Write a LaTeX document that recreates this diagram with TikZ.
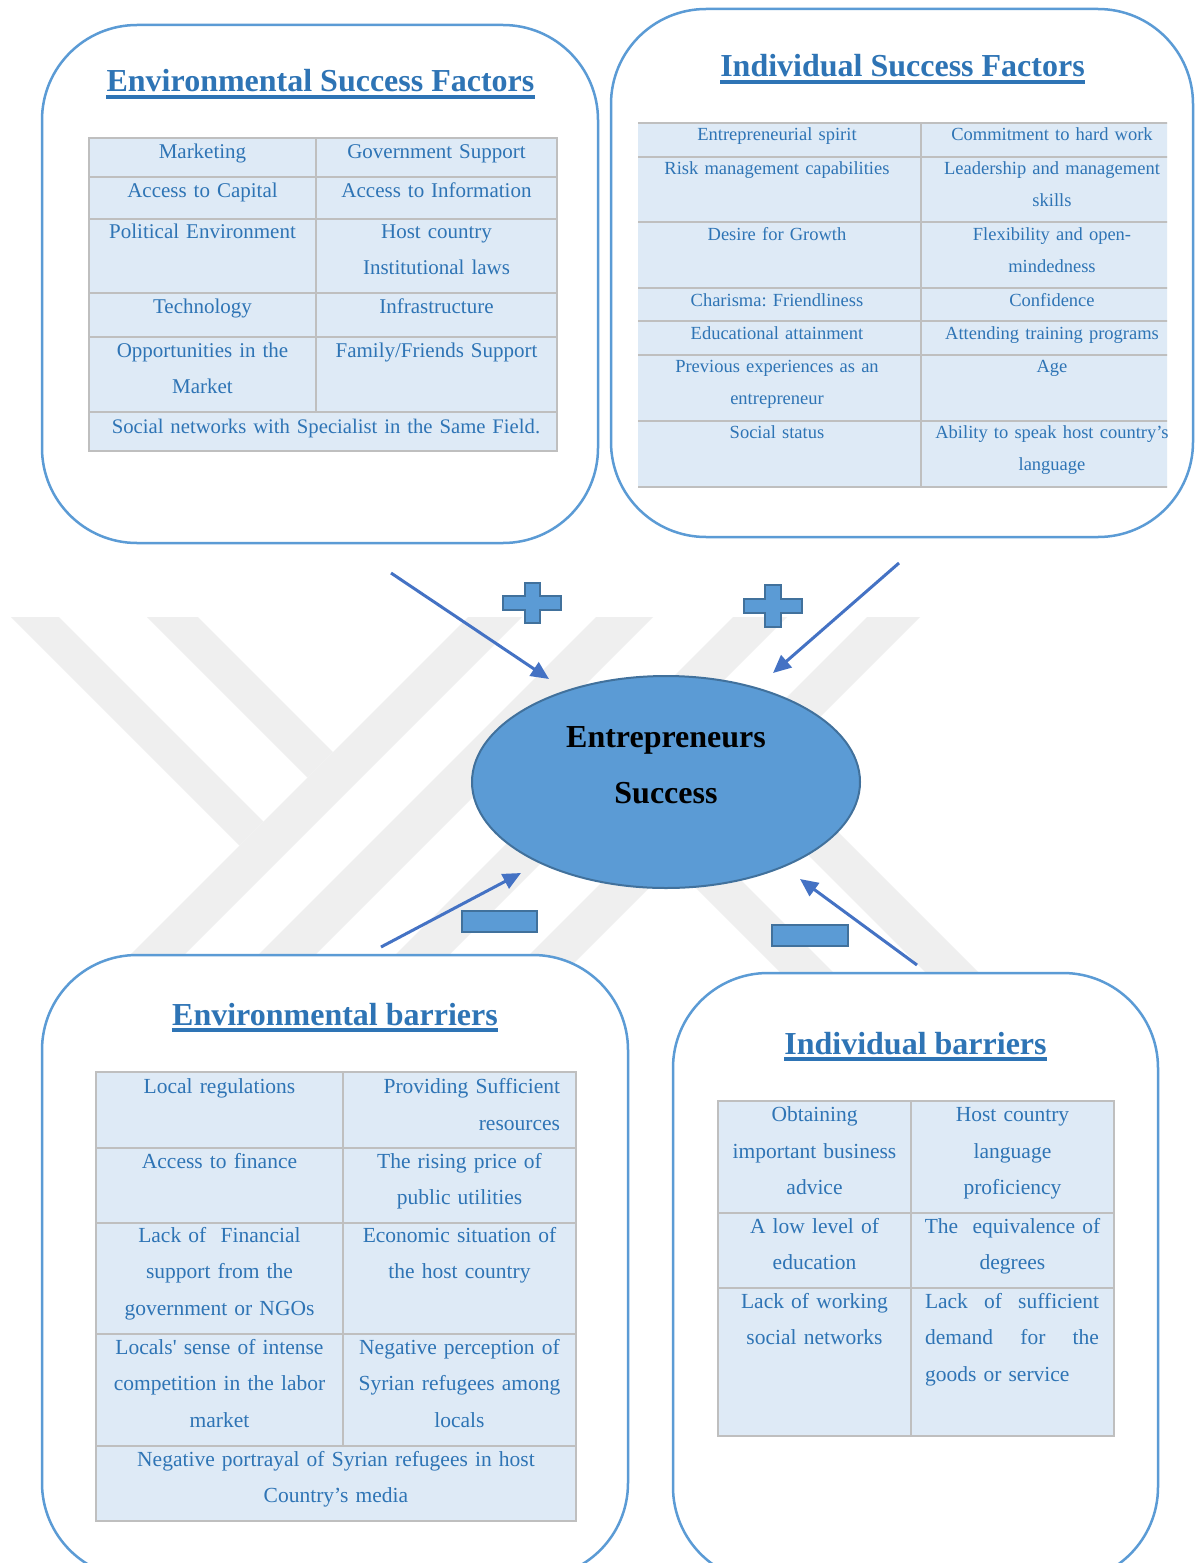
\documentclass[tikz,border=0pt]{standalone}
\usepackage{fontspec}
\setmainfont{Liberation Serif}
\usetikzlibrary{shapes.geometric, arrows.meta, calc}
\frenchspacing

\definecolor{panelblue}{HTML}{5B9BD5}
\definecolor{titleblue}{HTML}{2E74B5}
\definecolor{cellfill}{HTML}{DEEAF6}
\definecolor{gridgrey}{HTML}{BFBFBF}
\definecolor{celltext}{HTML}{2E74B5}
\definecolor{hubfill}{HTML}{5B9BD5}
\definecolor{hubedge}{HTML}{41719C}
\definecolor{arrowblue}{HTML}{4472C4}
\definecolor{markgrey}{HTML}{EFEFEF}

\tikzset{
  panel/.style={draw=panelblue, line width=2.5pt, rounded corners=95pt, fill=white, inner sep=0pt},
  heading/.style={font=\fontsize{32}{38}\selectfont\bfseries, text=titleblue, inner sep=0pt, anchor=base},
  underbar/.style={draw=titleblue, line width=3.6pt},
  gridline/.style={draw=gridgrey, line width=2pt},
  cellA/.style={text=celltext, inner sep=0pt, anchor=base, align=center, text width=#1,
                font=\fontsize{21}{36.5}\selectfont},
  cellB/.style={text=celltext, inner sep=0pt, anchor=base, align=center, text width=#1,
                font=\fontsize{18.5}{32}\selectfont},
  cellC/.style={text=celltext, inner sep=0pt, anchor=base, align=center, text width=#1,
                font=\fontsize{21.5}{36.5}\selectfont},
  hubtext/.style={font=\fontsize{32}{38}\selectfont\bfseries, text=black, inner sep=0pt, anchor=base},
  pointer/.style={draw=arrowblue, line width=3pt, -{Triangle[length=18pt,width=16pt]}},
  sign/.style={fill=hubfill, draw=hubedge, line width=2pt},
}

\begin{document}
\begin{tikzpicture}[x=1pt, y=-1pt]
\clip (0,0) rectangle (1198,1563);
\fill[white] (0,0) rectangle (1198,1563);

% faint watermark stripes
\fill[markgrey] (11,617) -- (59,617) -- (263.5,821.5) -- (239.5,845.5) -- cycle;
\fill[markgrey] (147,617) -- (198,617) -- (333,752) -- (307.5,777.5) -- cycle;
\fill[markgrey] (468,617) -- (522,617) -- (139,1000) -- (85,1000) -- cycle;
\fill[markgrey] (596,617) -- (653,617) -- (270,1000) -- (213,1000) -- cycle;
\fill[markgrey] (733,617) -- (787,617) -- (404,1000) -- (350,1000) -- cycle;
\fill[markgrey] (867,617) -- (920,617) -- (537,1000) -- (484,1000) -- cycle;
\fill[markgrey] (568,760) -- (621,760) -- (861,1000) -- (808,1000) -- cycle;
\fill[markgrey] (713,760) -- (766,760) -- (1006,1000) -- (953,1000) -- cycle;

% the four panels
\node[panel, minimum width=556pt, minimum height=518pt] (envpanel) at (320,284) {};
\node[panel, minimum width=582pt, minimum height=528pt] (indpanel) at (902,273) {};
\node[panel, minimum width=586pt, minimum height=623pt] (envbar) at (335,1266.5) {};
\node[panel, minimum width=485pt, minimum height=609pt] (indbar) at (915.5,1277.5) {};

% headings
\node[heading] (t1) at (320.5,92) {Environmental Success Factors};
\draw[underbar] ($(t1.base west)+(0,5)$) -- ($(t1.base east)+(0,5)$);
\node[heading] (t2) at (902.5,77) {Individual Success Factors};
\draw[underbar] ($(t2.base west)+(0,5)$) -- ($(t2.base east)+(0,5)$);
\node[heading] (t3) at (335,1025) {Environmental barriers};
\draw[underbar] ($(t3.base west)+(0,5)$) -- ($(t3.base east)+(0,5)$);
\node[heading] (t4) at (915.5,1054) {Individual barriers};
\draw[underbar] ($(t4.base west)+(0,5)$) -- ($(t4.base east)+(0,5)$);

% environmental success factors table
\fill[cellfill] (89,138) rectangle (557,451);
\foreach \r in {177,219,293,337,412} \draw[gridline] (89,\r) -- (557,\r);
\draw[gridline] (316,138) -- (316,412);
\draw[gridline] (89,138) rectangle (557,451);
\node[cellA=220pt] (m1) at (202.5,158.5) {Marketing};
\node[cellA=234pt] (m2) at (436.5,158.5) {Government Support};
\node[cellA=220pt] (m3) at (202.5,197) {Access to Capital};
\node[cellA=234pt] (m4) at (436.5,197) {Access to Information};
\node[cellA=220pt] (m5) at (202.5,238) {Political Environment};
\node[cellA=234pt] (m6) at (436.5,238) {Host country\\Institutional laws};
\node[cellA=220pt] (m7) at (202.5,313) {Technology};
\node[cellA=234pt] (m8) at (436.5,313) {Infrastructure};
\node[cellA=220pt] (m9) at (202.5,357) {Opportunities in the\\Market};
\node[cellA=234pt] (m10) at (436.5,357) {Family/Friends Support};
\node[cellA=460pt, font=\fontsize{20.7}{36.5}\selectfont] (m11) at (326,433)
  {Social networks with Specialist in the Same Field.};

% individual success factors table (cut off on the right)
\begin{scope}
\clip (600,100) rectangle (1167,500);
\fill[cellfill] (638,123) rectangle (1190,487);
\foreach \r in {123,157,222,288,321,355,421,487} \draw[gridline] (638,\r) -- (1190,\r);
\draw[gridline] (921,123) -- (921,487);
\node[cellB=270pt] (n1) at (777,140.5) {Entrepreneurial spirit};
\node[cellB=240pt] (n2) at (1052,140.5) {Commitment to hard work};
\node[cellB=270pt] (n3) at (777,174) {Risk management capabilities};
\node[cellB=240pt] (n4) at (1052,174) {Leadership and management\\skills};
\node[cellB=270pt] (n5) at (777,240) {Desire for Growth};
\node[cellB=240pt] (n6) at (1052,240) {Flexibility and open-\\mindedness};
\node[cellB=270pt] (n7) at (777,306) {Charisma: Friendliness};
\node[cellB=240pt] (n8) at (1052,306) {Confidence};
\node[cellB=270pt] (n9) at (777,339) {Educational attainment};
\node[cellB=240pt] (n10) at (1052,339) {Attending training programs};
\node[cellB=270pt] (n11) at (777,372) {Previous experiences as an\\entrepreneur};
\node[cellB=240pt] (n12) at (1052,372) {Age};
\node[cellB=270pt] (n13) at (777,438) {Social status};
\node[cellB=240pt] (n14) at (1052,438) {Ability to speak host country’s\\language};
\end{scope}

% environmental barriers table
\fill[cellfill] (96,1072) rectangle (576,1521);
\foreach \r in {1148,1223,1334,1446} \draw[gridline] (96,\r) -- (576,\r);
\draw[gridline] (343,1072) -- (343,1446);
\draw[gridline] (96,1072) rectangle (576,1521);
\node[cellC=230pt] (e1) at (219.5,1093.5) {Local regulations};
\node[cellC=225pt, align=right] (e2) at (447.5,1093.5) {Providing Sufficient\\resources};
\node[cellC=230pt] (e3) at (219.5,1168) {Access to finance};
\node[cellC=225pt] (e4) at (459.5,1168) {The rising price of\\public utilities};
\node[cellC=230pt] (e5) at (219.5,1242) {Lack of~ Financial\\support from the\\government or NGOs};
\node[cellC=225pt] (e6) at (459.5,1242) {Economic situation of\\the host country};
\node[cellC=230pt] (e7) at (219.5,1354) {Locals\textquotesingle{} sense of intense\\competition in the labor\\market};
\node[cellC=225pt] (e8) at (459.5,1354) {Negative perception of\\Syrian refugees among\\locals};
\node[cellC=450pt] (e9) at (336,1466) {Negative portrayal of Syrian refugees in host\\Country’s media};

% individual barriers table
\fill[cellfill] (718,1101) rectangle (1114,1436);
\foreach \r in {1213,1288} \draw[gridline] (718,\r) -- (1114,\r);
\draw[gridline] (911,1101) -- (911,1436);
\draw[gridline] (718,1101) rectangle (1114,1436);
\node[cellC=185pt] (b1) at (814.5,1121.5) {Obtaining\\important business\\advice};
\node[cellC=195pt] (b2) at (1012.5,1121.5) {Host country\\language\\proficiency};
\node[cellC=185pt] (b3) at (814.5,1233) {A low level of\\education};
\node[cellC=195pt] (b4) at (1012.5,1233) {The~ equivalence of\\degrees};
\node[cellC=185pt] (b5) at (814.5,1308) {Lack of working\\social networks};
\node[cellC=174pt, align=left] (b6) at (1012,1308)
  {\makebox[174pt][l]{Lack\hfill of\hfill sufficient}\\
   \makebox[174pt][l]{demand\hfill for\hfill the}\\
   goods or service};

% central ellipse
\node[ellipse, draw=hubedge, fill=hubfill, line width=2pt, inner sep=0pt,
      minimum width=388pt, minimum height=212pt] (hub) at (666,782) {};
\node[hubtext] (hub1) at (666,747) {Entrepreneurs};
\node[hubtext] (hub2) at (666,803) {Success};

% influence arrows
\coordinate (a1s) at (391,573);  \coordinate (a1e) at (549,679);
\coordinate (a2s) at (899,563);  \coordinate (a2e) at (773,673);
\coordinate (a3s) at (381,947);  \coordinate (a3e) at (521,873);
\coordinate (a4s) at (917,965);  \coordinate (a4e) at (800,879);
\draw[pointer] (a1s) -- (a1e);
\draw[pointer] (a2s) -- (a2e);
\draw[pointer] (a3s) -- (a3e);
\draw[pointer] (a4s) -- (a4e);

% plus and minus signs
\draw[sign] (525,583) -- (540,583) -- (540,596) -- (561,596) -- (561,610) -- (540,610)
  -- (540,623) -- (525,623) -- (525,610) -- (503,610) -- (503,596) -- (525,596) -- cycle;
\draw[sign] (765,585) -- (781,585) -- (781,599) -- (802,599) -- (802,613) -- (781,613)
  -- (781,627) -- (765,627) -- (765,613) -- (744,613) -- (744,599) -- (765,599) -- cycle;
\draw[sign] (462,911) rectangle (537,932);
\draw[sign] (772,925) rectangle (848,946);
\end{tikzpicture}
\end{document}
